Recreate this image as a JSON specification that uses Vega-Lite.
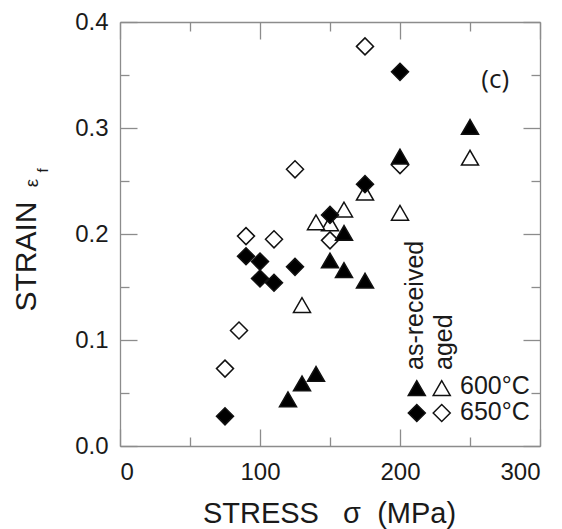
{
  "$schema": "https://vega.github.io/schema/vega-lite/v6.json",
  "width": 420,
  "height": 424,
  "autosize": {"type": "none"},
  "padding": {"left": 120, "top": 22, "right": 22, "bottom": 83},
  "background": "white",
  "config": {
    "view": {"stroke": null},
    "font": "Liberation Sans",
    "axis": {
      "domainColor": "#8c8c8c",
      "tickColor": "#8c8c8c",
      "domainWidth": 1.3,
      "tickWidth": 1.3,
      "labelColor": "#1a1a1a",
      "titleColor": "#1a1a1a",
      "labelFont": "Liberation Sans",
      "titleFont": "Liberation Sans",
      "labelFontSize": 24,
      "titleFontWeight": "normal",
      "grid": false
    }
  },
  "data": {
    "values": [
      {"stress": 250, "strain": 0.272, "series": "aged 600°C"},
      {"stress": 200, "strain": 0.220, "series": "aged 600°C"},
      {"stress": 175, "strain": 0.239, "series": "aged 600°C"},
      {"stress": 160, "strain": 0.223, "series": "aged 600°C"},
      {"stress": 150, "strain": 0.210, "series": "aged 600°C"},
      {"stress": 140, "strain": 0.211, "series": "aged 600°C"},
      {"stress": 130, "strain": 0.133, "series": "aged 600°C"},
      {"stress": 175, "strain": 0.377, "series": "aged 650°C"},
      {"stress": 200, "strain": 0.265, "series": "aged 650°C"},
      {"stress": 125, "strain": 0.261, "series": "aged 650°C"},
      {"stress": 90, "strain": 0.198, "series": "aged 650°C"},
      {"stress": 110, "strain": 0.195, "series": "aged 650°C"},
      {"stress": 150, "strain": 0.194, "series": "aged 650°C"},
      {"stress": 85, "strain": 0.109, "series": "aged 650°C"},
      {"stress": 75, "strain": 0.073, "series": "aged 650°C"},
      {"stress": 250, "strain": 0.301, "series": "as-received 600°C"},
      {"stress": 200, "strain": 0.273, "series": "as-received 600°C"},
      {"stress": 160, "strain": 0.201, "series": "as-received 600°C"},
      {"stress": 150, "strain": 0.175, "series": "as-received 600°C"},
      {"stress": 160, "strain": 0.166, "series": "as-received 600°C"},
      {"stress": 175, "strain": 0.156, "series": "as-received 600°C"},
      {"stress": 140, "strain": 0.068, "series": "as-received 600°C"},
      {"stress": 130, "strain": 0.059, "series": "as-received 600°C"},
      {"stress": 120, "strain": 0.044, "series": "as-received 600°C"},
      {"stress": 200, "strain": 0.353, "series": "as-received 650°C"},
      {"stress": 175, "strain": 0.247, "series": "as-received 650°C"},
      {"stress": 150, "strain": 0.218, "series": "as-received 650°C"},
      {"stress": 125, "strain": 0.169, "series": "as-received 650°C"},
      {"stress": 90, "strain": 0.179, "series": "as-received 650°C"},
      {"stress": 100, "strain": 0.174, "series": "as-received 650°C"},
      {"stress": 100, "strain": 0.158, "series": "as-received 650°C"},
      {"stress": 110, "strain": 0.154, "series": "as-received 650°C"},
      {"stress": 75, "strain": 0.028, "series": "as-received 650°C"}
    ]
  },
  "layer": [
    {
      "mark": {"type": "point", "opacity": 0},
      "encoding": {
        "x": {"field": "stress", "type": "quantitative", "scale": {"domain": [0, 300], "nice": false, "zero": false},
              "axis": {"orient": "bottom", "values": [50, 150, 250], "labels": false, "domain": false, "title": null, "tickSize": -9}},
        "y": {"field": "strain", "type": "quantitative", "scale": {"domain": [0, 0.4], "nice": false, "zero": false},
              "axis": {"orient": "left", "values": [0.05, 0.15, 0.25, 0.35], "labels": false, "domain": false, "title": null, "tickSize": -9}}
      }
    },
    {
      "mark": {"type": "point", "opacity": 0},
      "encoding": {
        "x": {"field": "stress", "type": "quantitative",
              "axis": {"orient": "top", "values": [0, 100, 200, 300], "labels": false, "domain": true, "title": null, "tickSize": -17}},
        "y": {"field": "strain", "type": "quantitative",
              "axis": {"orient": "right", "values": [0, 0.1, 0.2, 0.3, 0.4], "labels": false, "domain": true, "title": null, "tickSize": -17}}
      }
    },
    {
      "mark": {"type": "point", "opacity": 0},
      "encoding": {
        "x": {"field": "stress", "type": "quantitative",
              "axis": {"orient": "top", "values": [50, 150, 250], "labels": false, "domain": false, "title": null, "tickSize": -9}},
        "y": {"field": "strain", "type": "quantitative",
              "axis": {"orient": "right", "values": [0.05, 0.15, 0.25, 0.35], "labels": false, "domain": false, "title": null, "tickSize": -9}}
      }
    },
    {
      "mark": {"type": "point", "size": 290, "stroke": "#111111", "strokeWidth": 1.5, "opacity": 1},
      "encoding": {
        "x": {"field": "stress", "type": "quantitative",
              "axis": {"orient": "bottom", "values": [0, 100, 200, 300], "tickSize": -17, "labelPadding": 31,
                       "title": "STRESS\u00a0\u00a0\u00a0σ\u00a0\u00a0(MPa)", "titleFontSize": 29, "titleBaseline": "alphabetic", "titleY": 76, "titleX": 209}},
        "y": {"field": "strain", "type": "quantitative",
              "axis": {"orient": "left", "values": [0, 0.1, 0.2, 0.3, 0.4], "format": ".1f", "tickSize": -17, "labelPadding": 29,
                       "title": "STRAIN", "titleFontSize": 30, "titleBaseline": "alphabetic", "titleAngle": 270, "titleX": -85, "titleY": 234}},
        "shape": {"field": "series", "type": "nominal",
                  "scale": {"domain": ["as-received 600°C", "aged 600°C", "as-received 650°C", "aged 650°C"], "range": ["triangle-up", "triangle-up", "diamond", "diamond"]},
                  "legend": null},
        "fill": {"field": "series", "type": "nominal",
                 "scale": {"domain": ["as-received 600°C", "aged 600°C", "as-received 650°C", "aged 650°C"], "range": ["#000000", "#ffffff", "#000000", "#ffffff"]},
                 "legend": null}
      }
    },
    {
      "data": {"values": [{}]},
      "mark": {"type": "point", "shape": "triangle-up", "size": 290, "fill": "#000000", "stroke": "#111111", "strokeWidth": 1.5, "opacity": 1},
      "encoding": {
        "x": {"datum": 212, "type": "quantitative", "axis": null},
        "y": {"datum": 0.0547, "type": "quantitative", "axis": null}
      }
    },
    {
      "data": {"values": [{}]},
      "mark": {"type": "point", "shape": "triangle-up", "size": 290, "fill": "#ffffff", "stroke": "#111111", "strokeWidth": 1.5, "opacity": 1},
      "encoding": {
        "x": {"datum": 229.8, "type": "quantitative", "axis": null},
        "y": {"datum": 0.0547, "type": "quantitative", "axis": null}
      }
    },
    {
      "data": {"values": [{}]},
      "mark": {"type": "point", "shape": "diamond", "size": 290, "fill": "#000000", "stroke": "#111111", "strokeWidth": 1.5, "opacity": 1},
      "encoding": {
        "x": {"datum": 212, "type": "quantitative", "axis": null},
        "y": {"datum": 0.0311, "type": "quantitative", "axis": null}
      }
    },
    {
      "data": {"values": [{}]},
      "mark": {"type": "point", "shape": "diamond", "size": 290, "fill": "#ffffff", "stroke": "#111111", "strokeWidth": 1.5, "opacity": 1},
      "encoding": {
        "x": {"datum": 229.8, "type": "quantitative", "axis": null},
        "y": {"datum": 0.0311, "type": "quantitative", "axis": null}
      }
    },
    {
      "data": {"values": [{}]},
      "mark": {"type": "text", "text": "600°C", "fontSize": 25, "fill": "#1a1a1a", "align": "left", "baseline": "middle"},
      "encoding": {
        "x": {"datum": 242.9, "type": "quantitative", "axis": null},
        "y": {"datum": 0.057, "type": "quantitative", "axis": null}
      }
    },
    {
      "data": {"values": [{}]},
      "mark": {"type": "text", "text": "650°C", "fontSize": 25, "fill": "#1a1a1a", "align": "left", "baseline": "middle"},
      "encoding": {
        "x": {"datum": 242.9, "type": "quantitative", "axis": null},
        "y": {"datum": 0.0325, "type": "quantitative", "axis": null}
      }
    },
    {
      "data": {"values": [{}]},
      "mark": {"type": "text", "text": "(c)", "font": "Open Sans", "fontSize": 26, "fill": "#1a1a1a", "align": "center", "baseline": "middle"},
      "encoding": {
        "x": {"datum": 268, "type": "quantitative", "axis": null},
        "y": {"datum": 0.345, "type": "quantitative", "axis": null}
      }
    },
    {
      "data": {"values": [{}]},
      "mark": {"type": "text", "text": "as-received", "fontSize": 25, "fill": "#1a1a1a", "angle": 270, "align": "left", "baseline": "alphabetic"},
      "encoding": {
        "x": {"datum": 216.4, "type": "quantitative", "axis": null},
        "y": {"datum": 0.0717, "type": "quantitative", "axis": null}
      }
    },
    {
      "data": {"values": [{}]},
      "mark": {"type": "text", "text": "aged", "fontSize": 25, "fill": "#1a1a1a", "angle": 270, "align": "left", "baseline": "alphabetic"},
      "encoding": {
        "x": {"datum": 236.8, "type": "quantitative", "axis": null},
        "y": {"datum": 0.0717, "type": "quantitative", "axis": null}
      }
    },
    {
      "data": {"values": [{}]},
      "mark": {"type": "text", "text": "ε", "fontSize": 19, "fill": "#1a1a1a", "angle": 270, "align": "center", "baseline": "alphabetic"},
      "encoding": {
        "x": {"datum": -58.6, "type": "quantitative", "axis": null},
        "y": {"datum": 0.248, "type": "quantitative", "axis": null}
      }
    },
    {
      "data": {"values": [{}]},
      "mark": {"type": "text", "text": "f", "fontSize": 15, "fill": "#1a1a1a", "angle": 270, "align": "center", "baseline": "alphabetic"},
      "encoding": {
        "x": {"datum": -51.5, "type": "quantitative", "axis": null},
        "y": {"datum": 0.260, "type": "quantitative", "axis": null}
      }
    }
  ],
  "resolve": {"axis": {"x": "independent", "y": "independent"}}
}
